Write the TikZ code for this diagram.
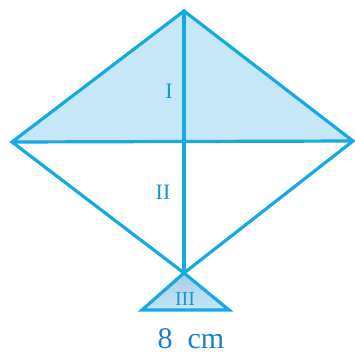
\documentclass[tikz,border=0pt]{standalone}
\usepackage{fontspec}
\setmainfont{Liberation Serif}
\definecolor{kline}{HTML}{17A9E1}
\definecolor{kfill}{HTML}{C6E7F8}
\definecolor{klab}{HTML}{1796D4}
\definecolor{ktext}{HTML}{1E80C8}
\definecolor{ktop}{HTML}{A6CBE0}
\begin{document}
\begin{tikzpicture}[x=1pt,y=-1pt,
  edge/.style={draw=kline,line width=3.2pt,line join=miter,line cap=round},
  lab/.style={text=klab,font=\fontsize{22}{24}\selectfont,inner sep=0pt}]
\useasboundingbox (0,0) rectangle (355,354);
\coordinate (T) at (184,11);
\coordinate (L) at (12,142);
\coordinate (R) at (353,141);
\coordinate (C) at (184,142);
\coordinate (B) at (184,273);
\coordinate (BL) at (142,310);
\coordinate (BR) at (229,310);
\fill[kfill] (T) -- (L) -- (R) -- cycle;
\shade[top color=ktop, bottom color=kfill] (B) -- (BL) -- (BR) -- cycle;
\draw[edge] (T) -- (L) -- (B) -- (R) -- cycle;
\draw[edge] (L) -- (R);
\draw[edge] (T) -- (B);
\draw[edge] (B) -- (BL) -- (BR) -- cycle;
\node[lab] (n1) at (169,91) {I};
\node[lab] (n2) at (163,192) {II};
\node[lab,font=\fontsize{20}{22}\selectfont] (n3) at (185,299) {III};
\node[text=ktext,font=\fontsize{30}{32}\selectfont,inner sep=0pt] (cm) at (191,339) {8\hspace{0.5em}cm};
\end{tikzpicture}
\end{document}
